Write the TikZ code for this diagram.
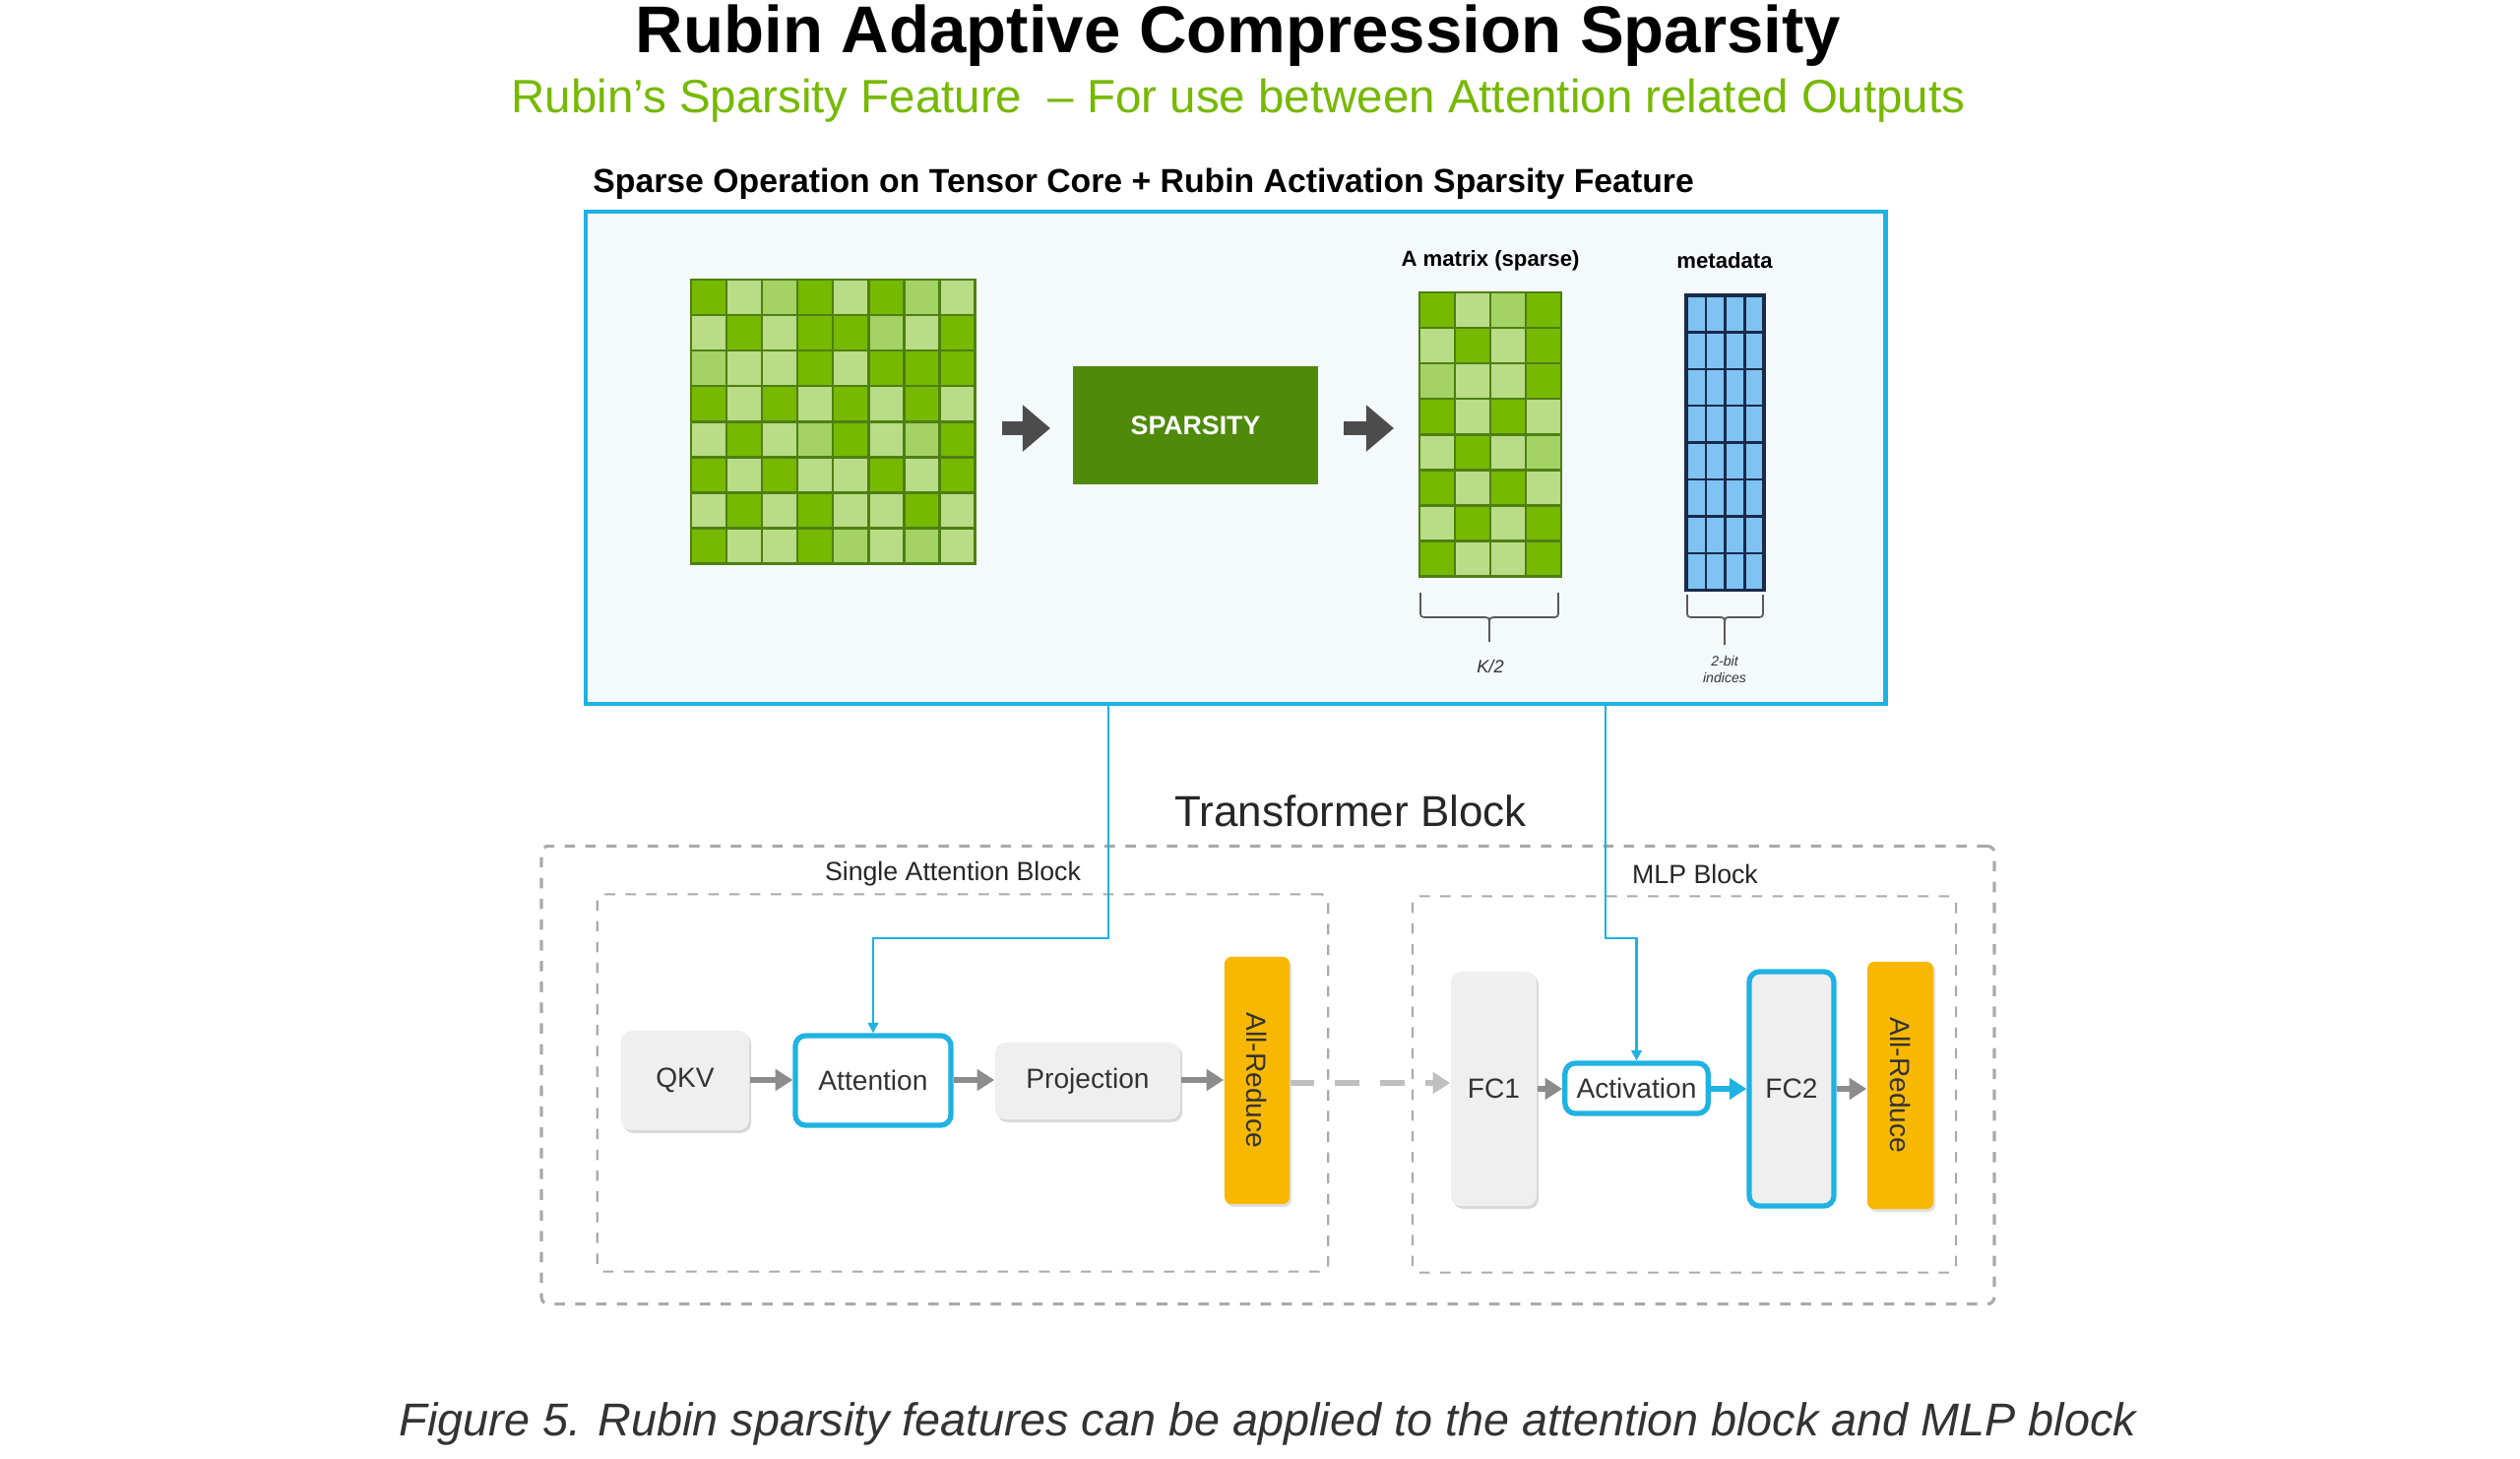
\documentclass[tikz,border=0pt]{standalone}
\usepackage{fontspec}
\setmainfont{Liberation Sans}
\usetikzlibrary{arrows.meta,shadows}
\definecolor{nvD}{HTML}{76B900}
\definecolor{nvL}{HTML}{B9DC87}
\definecolor{nvM}{HTML}{A4D264}
\definecolor{nvB}{HTML}{4E7F12}
\definecolor{cy}{HTML}{1FB2E3}
\definecolor{meta}{HTML}{7EC3F2}
\definecolor{metal}{HTML}{1A2A4A}
\definecolor{spg}{HTML}{4F8A0B}
\definecolor{boxg}{HTML}{EFEFEF}
\definecolor{yel}{HTML}{F9B800}
\definecolor{dash}{HTML}{AAAAAA}
\definecolor{arr}{HTML}{8C8C8C}
\definecolor{txt}{HTML}{333333}
\definecolor{pan}{HTML}{F4F9FC}
\tikzset{
  px/.style={x=0.01cm,y=-0.01cm},
  blk/.style={draw=none,fill=boxg,rounded corners=3pt,text=txt,font=\fontsize{8}{9}\selectfont,
    drop shadow={opacity=0.3,shadow xshift=0.6pt,shadow yshift=-0.8pt}},
  bblk/.style={draw=cy,line width=1.5pt,rounded corners=3pt,text=txt,font=\fontsize{8}{9}\selectfont},
  yblk/.style={fill=yel,rounded corners=2pt,text=txt,font=\fontsize{8}{9}\selectfont,
    drop shadow={opacity=0.25,shadow xshift=0.6pt,shadow yshift=-0.8pt}},
  dbox/.style={draw=dash,dashed,line width=0.6pt,rounded corners=2pt,inner sep=0pt},
  garr/.style={draw=arr,line width=1.5pt,-{Triangle[length=5pt,width=6pt]}},
  carr/.style={draw=cy,line width=0.7pt,-{Triangle[length=3pt,width=3pt]}},
  bigarr/.style={draw=black!70,line width=4pt,-{Triangle[length=8pt,width=13pt]}},
  brace/.style={draw=black!65,line width=0.5pt},
}
\newcount\cellc
\def\drawrow#1#2#3{% y, x0, string
  \def\xx{#2}\def\yy{#1}\cellc=0
  \edef\tmp{#3}%
  \expandafter\cellloop\tmp\relax}
\def\cellloop#1{\ifx#1\relax\else
  \ifx#1D\def\cc{nvD}\else\ifx#1L\def\cc{nvL}\else\def\cc{nvM}\fi\fi
  \fill[\cc] (\xx+36*\the\cellc,\yy) rectangle ++(36,36);
  \global\advance\cellc by 1
  \expandafter\cellloop\fi}
\begin{document}
\begin{tikzpicture}[px]
\useasboundingbox[fill=white] (0,0) rectangle (2560,1481);
% titles
\node[font=\bfseries\fontsize{19.1}{21}\selectfont] (title) at (1258,36) {Rubin Adaptive Compression Sparsity};
\node[font=\fontsize{13.5}{15}\selectfont,text=nvD] (sub) at (1258,102) {Rubin’s Sparsity Feature \ – For use between Attention related Outputs};
\node[font=\bfseries\fontsize{9.6}{11}\selectfont,anchor=west] (hdr) at (590,187) {Sparse Operation on Tensor Core + Rubin Activation Sparsity Feature};
% blue panel
\node[draw=cy,line width=1.2pt,fill=pan,minimum width=13.2cm,minimum height=5.0cm,inner sep=0pt] (panel) at (1255,465) {};
% big matrix
\foreach \r/\row in {0/DLMDLDML,1/LDLDDMLD,2/MLLDLDDD,3/DLDLDLDL,4/LDLMDLMD,5/DLDLLDLD,6/LDLDLLDL,7/DLLDMLML}{
  \pgfmathsetmacro\yv{284+36*\r}
  \drawrow{\yv}{702}{\row}
}
\draw[nvB,line width=0.8pt,step=0.36cm,shift={(702,284)}] (0,0) grid (288,288);
\node[draw=nvB,line width=0.8pt,minimum width=2.88cm,minimum height=2.88cm,inner sep=0pt] (mA) at (846,428) {};
% sparsity
\node[fill=spg,text=white,font=\bfseries\fontsize{7.6}{9}\selectfont,minimum width=2.49cm,minimum height=1.2cm] (sp) at (1214.5,432) {SPARSITY};
\coordinate (a1s) at (1018,435); \coordinate (a2s) at (1365,435); \coordinate (a2e) at (1416,435);
\draw[bigarr] (a1s) -- (1067,435);
\draw[bigarr] (a2s) -- (a2e);
% A matrix sparse
\foreach \r/\row in {0/DLMD,1/LDLD,2/MLLD,3/DLDL,4/LDLM,5/DLDL,6/LDLD,7/DLLD}{
  \pgfmathsetmacro\yv{297+36*\r}
  \drawrow{\yv}{1442}{\row}
}
\draw[nvB,line width=0.8pt,step=0.36cm,shift={(1442,297)}] (0,0) grid (144,288);
\node[draw=nvB,line width=0.8pt,minimum width=1.44cm,minimum height=2.88cm,inner sep=0pt] (mS) at (1514,441) {};
\node[font=\bfseries\fontsize{6.3}{7}\selectfont] (mSl) at (1514,265) {A matrix (sparse)};
% metadata
\fill[meta] (1713,300) rectangle (1792,599);
\foreach \i in {1,2,3} \draw[metal,line width=0.7pt] (1713+19.75*\i,300) -- (1713+19.75*\i,599);
\foreach \i in {1,...,7} \draw[metal,line width=0.7pt] (1713,300+37.4*\i) -- (1792,300+37.4*\i);
\node[draw=metal,line width=0.9pt,minimum width=0.79cm,minimum height=2.99cm,inner sep=0pt] (md) at (1752.5,449.5) {};
\node[font=\bfseries\fontsize{6.3}{7}\selectfont] (mdl) at (1752,265) {metadata};
% braces
\draw[brace] (1443,602) -- (1443,620) .. controls (1443,627) .. (1451,627) -- (1505,627) .. controls (1513,627) .. (1513,635) -- (1513,652);
\draw[brace] (1583,602) -- (1583,620) .. controls (1583,627) .. (1575,627) -- (1521,627) .. controls (1513,627) .. (1513,635);
\draw[brace] (1714,604) -- (1714,620) .. controls (1714,627) .. (1722,627) -- (1745,627) .. controls (1752,627) .. (1752,635) -- (1752,655);
\draw[brace] (1791,604) -- (1791,620) .. controls (1791,627) .. (1783,627) -- (1759,627) .. controls (1752,627) .. (1752,635);
\node[font=\itshape\fontsize{5.2}{6}\selectfont,text=txt] (k2) at (1514,677) {K/2};
\node[font=\itshape\fontsize{4}{4.8}\selectfont,text=txt,align=center] (bi) at (1752,680) {2-bit\\indices};
% transformer block
\node[font=\fontsize{12.5}{14}\selectfont,text=black!85] (tbl) at (1372,824) {Transformer Block};
\node[dbox,minimum width=14.75cm,minimum height=4.65cm,line width=0.9pt] (tb) at (1288,1092) {};
\node[dbox,minimum width=7.42cm,minimum height=3.83cm] (sab) at (978,1100) {};
\node[dbox,minimum width=5.52cm,minimum height=3.82cm] (mlp) at (1711,1101.5) {};
\node[font=\fontsize{7.6}{9}\selectfont,text=black!85] (sabl) at (968,888) {Single Attention Block};
\node[font=\fontsize{7.6}{9}\selectfont,text=black!85] (mlpl) at (1722,888) {MLP Block};
% blocks
\node[blk,minimum width=1.30cm,minimum height=1.01cm] (qkv) at (696,1097.5) {QKV};
\node[bblk,fill=white,minimum width=1.58cm,minimum height=0.91cm] (att) at (887,1097.5) {Attention};
\node[blk,minimum width=1.88cm,minimum height=0.78cm] (proj) at (1105,1098) {Projection};
\node[yblk,minimum width=0.66cm,minimum height=2.51cm] (ar1) at (1277,1097.5) {};
\node[rotate=-90,text=txt,font=\fontsize{8}{9}\selectfont] (ar1t) at (ar1.center) {All-Reduce};
\node[blk,minimum width=0.87cm,minimum height=2.38cm] (fc1) at (1517.5,1106) {FC1};
\node[bblk,fill=white,minimum width=1.45cm,minimum height=0.51cm] (act) at (1662.5,1105.5) {Activation};
\node[bblk,fill=boxg,minimum width=0.86cm,minimum height=2.38cm] (fc2) at (1820,1106) {FC2};
\node[yblk,minimum width=0.67cm,minimum height=2.51cm] (ar2) at (1930.5,1102.5) {};
\node[rotate=-90,text=txt,font=\fontsize{8}{9}\selectfont] (ar2t) at (ar2.center) {All-Reduce};
% arrows
\draw[garr] (qkv.east |- 0,1097) -- (att.west |- 0,1097);
\draw[garr] (att.east |- 0,1097) -- (proj.west |- 0,1097);
\draw[garr] (proj.east |- 0,1097) -- (ar1.west |- 0,1097);
\draw[garr,draw=black!25,dash pattern=on 7pt off 6pt,-{Triangle[length=5pt,width=6pt,fill=black!25]}] (ar1.east |- 0,1100) -- (fc1.west |- 0,1100);
\draw[garr] (fc1.east |- 0,1106) -- (act.west |- 0,1106);
\draw[garr,draw=cy] (act.east |- 0,1106) -- (fc2.west |- 0,1106);
\draw[garr] (fc2.east |- 0,1106) -- (ar2.west |- 0,1106);
% blue connectors
\coordinate (t1) at (1126,717); \coordinate (t2) at (1631,717);
\draw[carr] (t1) |- (att.north |- 0,953) -- (att.north);
\draw[carr] (t2) |- (act.north |- 0,953) -- (act.north);
% caption
\node[font=\itshape\fontsize{13.3}{15}\selectfont,text=black!80] (cap) at (1288,1446) {Figure 5. Rubin sparsity features can be applied to the attention block and MLP block};
\end{tikzpicture}
\end{document}
